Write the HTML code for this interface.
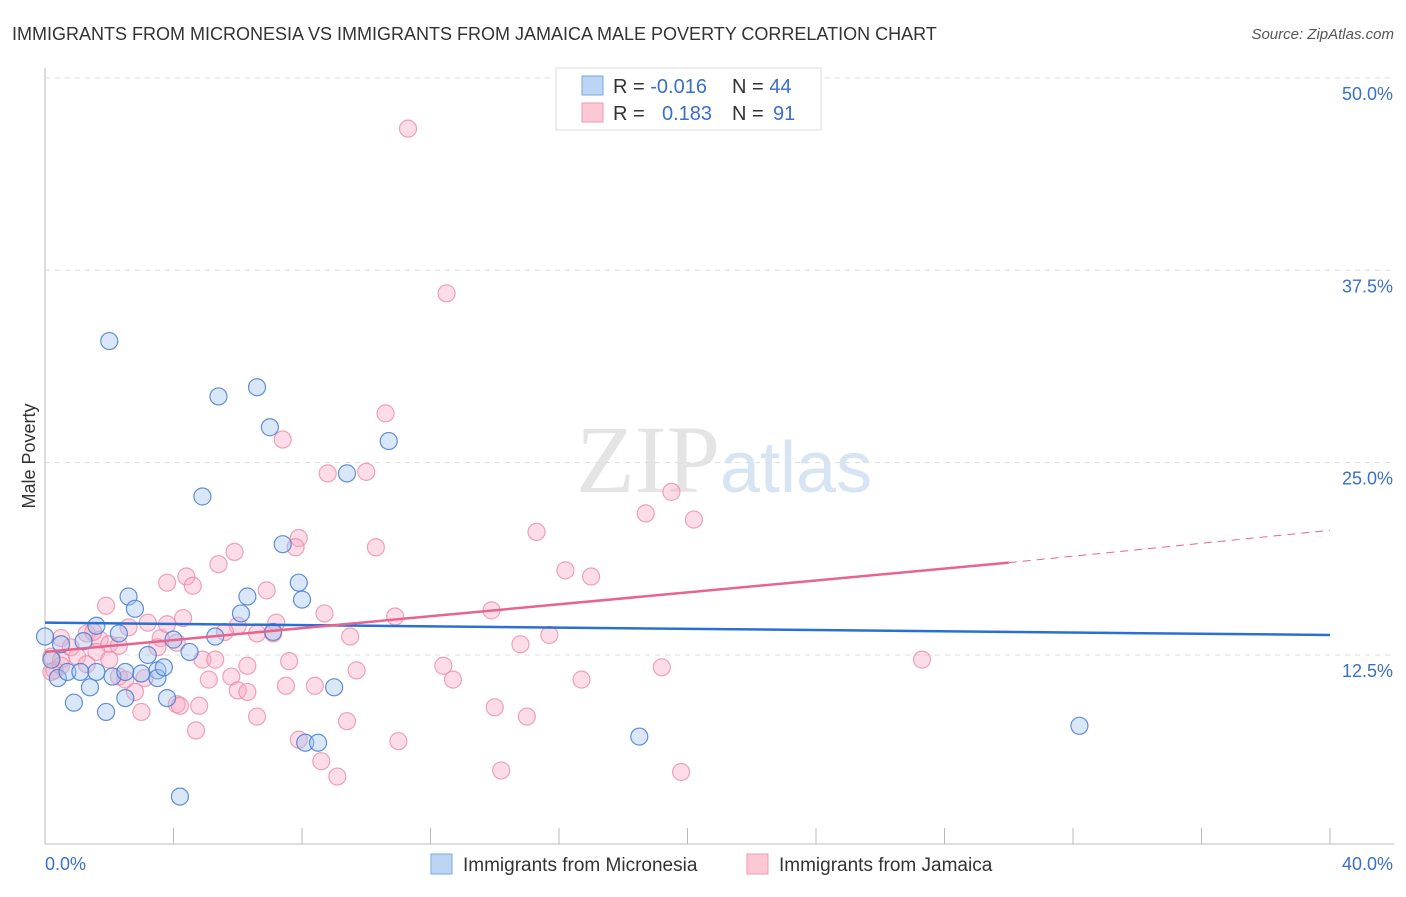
<!DOCTYPE html>
<html><head><meta charset="utf-8"><style>
body{margin:0;background:#fff;font-family:"Liberation Sans",sans-serif;}
#c{position:relative;width:1406px;height:892px;}
</style></head><body>
<div id="c">
<svg id="s" width="1406" height="892">
<text x="12" y="40" font-size="18" fill="#333">IMMIGRANTS FROM MICRONESIA VS IMMIGRANTS FROM JAMAICA MALE POVERTY CORRELATION CHART</text>
<text x="1394" y="39" font-size="15" fill="#555" font-style="italic" text-anchor="end">Source: ZipAtlas.com</text>
<text x="35" y="456" font-size="18" fill="#333" text-anchor="middle" transform="rotate(-90 35 456)">Male Poverty</text>
<text x="720" y="492" font-size="96" fill="#e4e4e4" text-anchor="end" font-family="Liberation Serif">ZIP</text>
<text x="720" y="492" font-size="72" fill="#d6e4f3">atlas</text>
<g id="grid"></g><g id="axes"></g><g id="pts"></g><g id="lines"></g>
<g>
<rect x="556" y="68" width="265" height="62" fill="#fff" stroke="#ddd"/>
<rect x="582" y="76" width="21" height="19" fill="#bcd5f5" stroke="#7aa8e0"/>
<rect x="582" y="103" width="21" height="19" fill="#fcc8d6" stroke="#ee9ab2"/>
<text x="613" y="93" font-size="20" fill="#333">R = <tspan fill="#3a6fcc">-0.016</tspan><tspan x="732">N = </tspan><tspan fill="#3a6fcc">44</tspan></text>
<text x="613" y="120" font-size="20" fill="#333">R = <tspan x="662" fill="#3a6fcc">0.183</tspan><tspan x="732">N = </tspan><tspan x="773" fill="#3a6fcc">91</tspan></text>
</g>
<g>
<rect x="431" y="854" width="21" height="20" fill="#bcd5f5" stroke="#7aa8e0"/>
<text x="463" y="871" font-size="19" fill="#333">Immigrants from Micronesia</text>
<rect x="747" y="854" width="21" height="20" fill="#fcc8d6" stroke="#ee9ab2"/>
<text x="779" y="871" font-size="19" fill="#333">Immigrants from Jamaica</text>
</g>
</svg></div>
<script>
const blueX=[0.0,0.2,0.4,0.5,0.7,0.9,1.1,1.2,1.4,1.6,1.6,1.9,2.0,2.1,2.3,2.5,2.5,2.6,2.8,3.0,3.2,3.5,3.5,3.7,3.8,4.0,4.2,4.5,4.9,5.3,5.4,6.1,6.3,6.6,7.0,7.1,7.4,7.9,8.0,8.1,8.5,9.0,9.4,10.7,18.5,32.2];
const blueY=[13.7,12.2,11.0,13.2,11.4,9.4,11.4,13.4,10.4,14.4,11.4,8.8,32.9,11.1,13.9,9.7,11.4,16.3,15.5,11.3,12.5,11.5,11.0,11.7,9.7,13.5,3.3,12.7,22.8,13.7,29.3,15.2,16.3,29.9,27.3,14.0,19.7,17.2,16.1,6.8,6.8,10.4,24.3,26.4,7.2,7.9];
const pinkX=[11.3,12.5,10.6,7.4,8.8,10.0,19.5,18.7,20.2,15.3,7.9,7.8,10.3,5.9,5.4,16.2,17.0,4.4,3.8,4.6,6.9,1.9,8.7,4.3,10.9,13.9,3.2,7.2,6.0,2.6,5.6,3.6,4.1,6.6,7.1,9.5,15.7,1.3,1.7,0.5,2.0,0.8,2.3,3.5,1.6,14.8,0.2,0.5,1.0,1.3,2.0,0.3,4.9,5.3,7.6,6.3,12.4,19.2,27.3,9.7,3.1,2.3,5.8,2.5,5.1,12.7,16.7,7.5,8.4,2.8,6.0,6.3,4.8,4.1,14.0,4.2,3.0,6.6,15.0,9.4,4.7,11.0,7.9,8.6,14.2,9.1,19.8,0.2,0.5,1.5,3.8];
const pinkY=[46.7,36.0,28.2,26.5,24.3,24.4,23.1,21.7,21.3,20.5,20.1,19.5,19.5,19.2,18.4,18.0,17.6,17.6,17.2,17.0,16.7,15.7,15.2,14.9,15.0,15.4,14.6,14.6,14.4,14.3,14.0,13.6,13.3,13.9,13.9,13.7,13.8,13.9,13.5,13.6,13.2,13.0,13.1,13.0,12.7,13.2,12.4,12.2,12.4,11.9,12.2,11.5,12.2,12.2,12.1,11.8,11.8,11.7,12.2,11.5,11.0,11.1,11.1,10.9,10.9,10.9,10.9,10.5,10.5,10.1,10.2,10.1,9.2,9.3,9.1,9.2,8.8,8.5,8.5,8.2,7.6,6.9,7.0,5.6,5.0,4.6,4.9,11.4,11.8,14.0,14.5];
const yTicks=[12.5,25.0,37.5,50.0];
const xTickLabels=["0.0%","40.0%"];
const blueTrend=[14.6,13.8];
const pinkTrend=[12.7,18.5,20.6];
const X0=45,X1=1330;
const sx=v=>X0+(v/40)*(X1-X0);
const sy=v=>655-(v-12.5)*15.39;
const NS="http://www.w3.org/2000/svg";
function mk(t,a,p){const e=document.createElementNS(NS,t);for(const k in a)e.setAttribute(k,a[k]);p.appendChild(e);return e;}
const grid=document.getElementById('grid'),axes=document.getElementById('axes'),pts=document.getElementById('pts'),lines=document.getElementById('lines');
yTicks.forEach(v=>{
 const l=mk('line',{x1:X0,x2:1394,y1:sy(v),y2:sy(v),stroke:'#ddd','stroke-dasharray':'5,5'},grid);
 
 
 const t=mk('text',{x:1393,y:sy(v)+22,'font-size':18,fill:'#3a6fcc','text-anchor':'end'},grid);
 t.textContent=v.toFixed(1)+'%';
 
 
});
mk('line',{x1:X0,x2:X0,y1:68,y2:844,stroke:'#bbb'},axes);
mk('line',{x1:X0,x2:1394,y1:844,y2:844,stroke:'#bbb'},axes);
for(let i=1;i<=10;i++){mk('line',{x1:sx(i*4),x2:sx(i*4),y1:828,y2:844,stroke:'#bbb'},axes);}
[[X0,'start',0],[1393,'end',1]].forEach(([x,a,i])=>{const t=mk('text',{x:x,y:870,'font-size':18,fill:'#3a6fcc','text-anchor':a},axes);t.textContent=xTickLabels[i];
 
 });
pinkX.forEach((x,i)=>{const c=mk('circle',{cx:sx(x),cy:sy(pinkY[i]),r:8.5,fill:'rgba(248,170,195,0.4)',stroke:'rgba(235,140,170,0.8)','stroke-width':1.2},pts);
 
 });
blueX.forEach((x,i)=>{const c=mk('circle',{cx:sx(x),cy:sy(blueY[i]),r:8.5,fill:'rgba(160,195,240,0.4)',stroke:'rgba(70,125,210,0.85)','stroke-width':1.2},pts);
 
 });
const bl=mk('line',{x1:sx(0),y1:sy(blueTrend[0]),x2:sx(40),y2:sy(blueTrend[1]),stroke:'#2a6fd6','stroke-width':2.5},lines);


const pl=mk('line',{x1:sx(0),y1:sy(pinkTrend[0]),x2:sx(30),y2:sy(pinkTrend[1]),stroke:'#e8638f','stroke-width':2.5},lines);


const pd=mk('line',{x1:sx(30),y1:sy(pinkTrend[1]),x2:sx(40),y2:sy(pinkTrend[2]),stroke:'#e8638f','stroke-width':1,'stroke-dasharray':'8,6'},lines);


</script>
</body></html>
